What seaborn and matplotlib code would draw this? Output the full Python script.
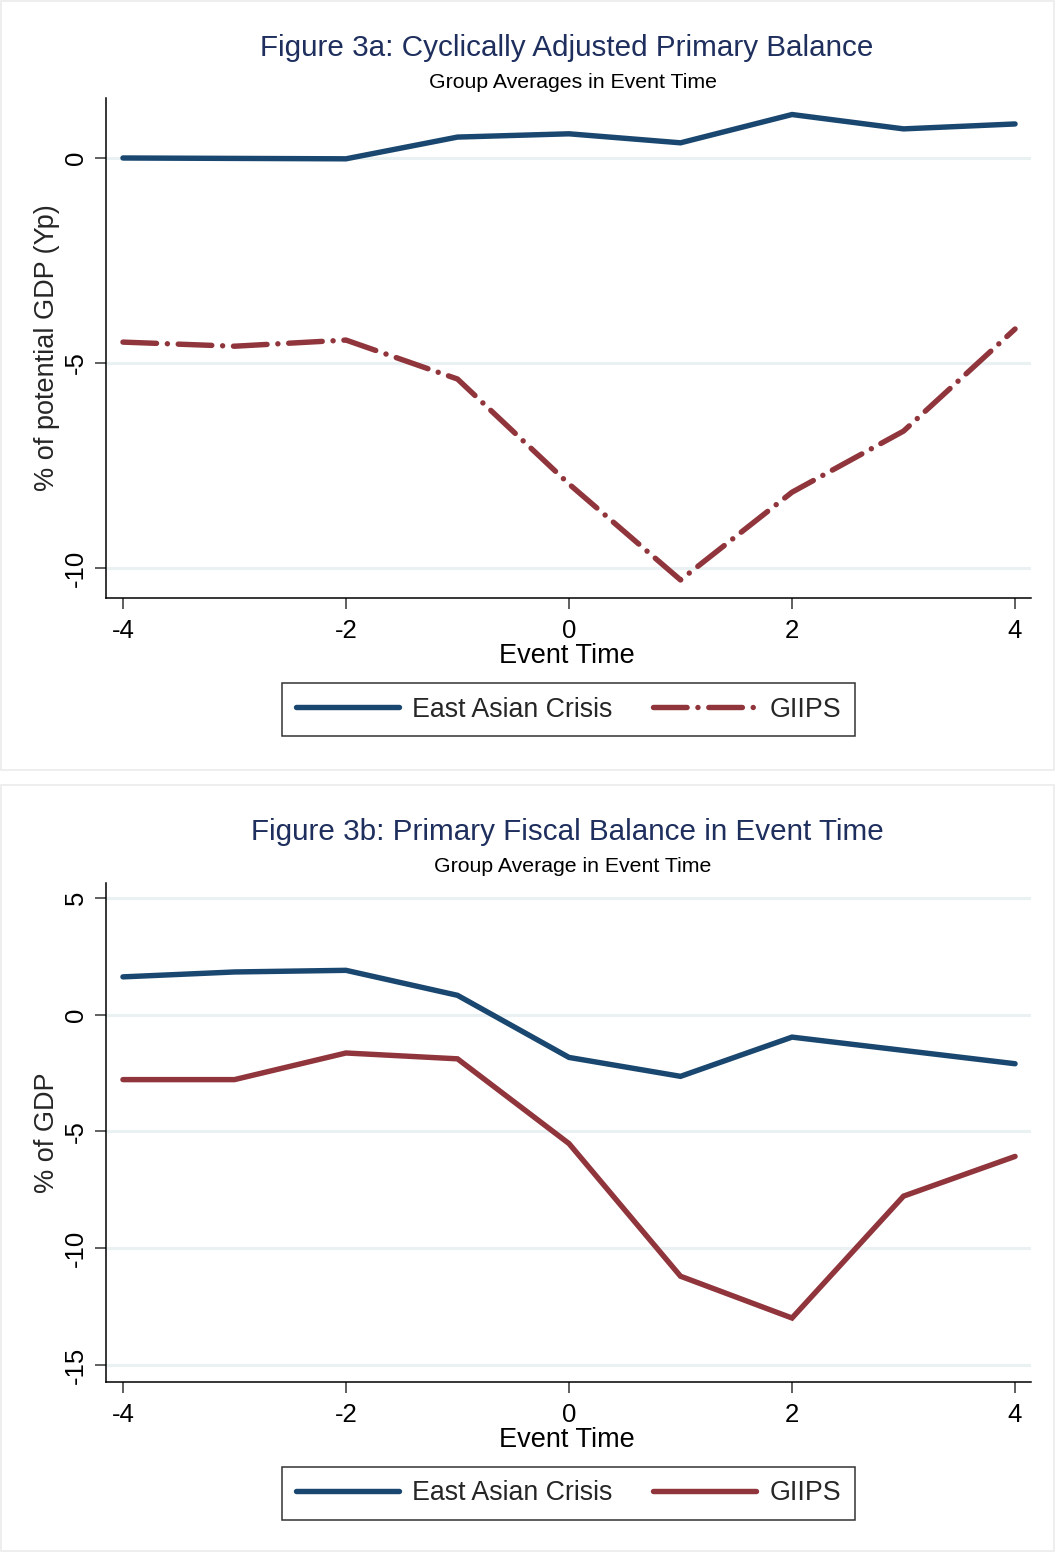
import numpy as np
import pandas as pd
import matplotlib
matplotlib.use("Agg")
import matplotlib.pyplot as plt
from matplotlib.patches import Rectangle
from matplotlib.lines import Line2D
import seaborn as sns

# ---- data ----
event_time = [-4, -3, -2, -1, 0, 1, 2, 3, 4]
capb_east_asia = [0.00, -0.01, -0.02, 0.51, 0.59, 0.37, 1.06, 0.71, 0.83]
capb_giips = [-4.49, -4.59, -4.44, -5.39, -7.95, -10.29, -8.15, -6.66, -4.17]
pfb_east_asia = [1.62, 1.83, 1.90, 0.83, -1.83, -2.64, -0.96, -1.53, -2.10]
pfb_giips = [-2.78, -2.78, -1.64, -1.89, -5.52, -11.20, -12.99, -7.77, -6.07]
series_names = ["East Asian Crisis", "GIIPS"]
x_ticks = [-4, -2, 0, 2, 4]
y_ticks_a = [0, -5, -10]
y_ticks_b = [5, 0, -5, -10, -15]

sns.set_theme(style="white")
plt.rcParams['font.family'] = ['Liberation Sans', 'DejaVu Sans']

BLUE = "#1a476f"
RED = "#90353b"
TITLE_C = "#1e2f5e"
GRID_C = "#eaf1f3"
LW = 3.9

W, H = 1057, 1552
fig = plt.figure(figsize=(W / 100, H / 100), dpi=100)
fig.patch.set_facecolor("white")

# panel frames
for (y0, y1) in [(1, 770), (785, 1551)]:
    fig.patches.append(Rectangle((1 / W, 1 - y1 / H), 1053 / W, (y1 - y0) / H,
                                 transform=fig.transFigure, fill=False,
                                 edgecolor="#ebebeb", linewidth=1.2, zorder=0))


def make_panel(top_px, bottom_px, ea, gi, yticks, ylim, ylabel, title, subtitle,
               title_y, sub_y, xlabel_y, legend_y, giips_dashed):
    ax = fig.add_axes([106 / W, 1 - bottom_px / H, 925 / W, (bottom_px - top_px) / H])
    df = pd.DataFrame({
        "t": event_time * 2,
        "v": list(ea) + list(gi),
        "s": [series_names[0]] * len(ea) + [series_names[1]] * len(gi),
    })
    sns.lineplot(data=df, x="t", y="v", hue="s", palette=[BLUE, RED], ax=ax,
                 linewidth=LW, legend=False, sort=False)
    lines = ax.get_lines()
    for ln in lines:
        ln.set_solid_capstyle("round")
        ln.set_dash_capstyle("round")
        ln.set_solid_joinstyle("miter")
    if giips_dashed:
        lines[1].set_dashes((6.2, 2, 0.01, 2))
    ax.set_xlim(-4.152, 4.143)
    ax.set_ylim(*ylim)
    ax.set_xticks(x_ticks)
    ax.set_xticklabels([str(v) for v in x_ticks])
    ax.set_yticks(yticks)
    ax.set_yticklabels([str(v) for v in yticks])
    for yv in yticks:
        ax.axhline(yv, color=GRID_C, linewidth=2.2, zorder=0)
    ax.tick_params(axis="both", which="major", direction="out", length=8, width=1.2,
                   color="#444444", labelsize=18.5, labelcolor="black",
                   left=True, bottom=True)
    ax.tick_params(axis="x", pad=7)
    ax.tick_params(axis="y", labelrotation=90, pad=5)
    for lab in ax.get_yticklabels():
        lab.set_va("center")
    for side in ["top", "right"]:
        ax.spines[side].set_visible(False)
    for side in ["left", "bottom"]:
        ax.spines[side].set_color("black")
        ax.spines[side].set_linewidth(1.1)
    ax.set_xlabel("")
    ax.set_ylabel(ylabel, fontsize=19.5)
    ax.yaxis.set_label_coords(-59 / 925, 0.5)
    ax.yaxis.label.set_va("center")
    fig.text(567 / W, 1 - title_y / H, title, ha="center", va="center",
             fontsize=21.3, color=TITLE_C)
    fig.text(573 / W, 1 - sub_y / H, subtitle, ha="center", va="center",
             fontsize=15.3, color="black")
    fig.text(567 / W, 1 - xlabel_y / H, "Event Time", ha="center", va="center",
             fontsize=19.5, color="black")
    handles = [Line2D([], [], color=BLUE, linewidth=LW, solid_capstyle="round"),
               Line2D([], [], color=RED, linewidth=LW, solid_capstyle="round",
                      dash_capstyle="round")]
    if giips_dashed:
        handles[1].set_dashes((6.2, 2, 0.01, 2))
    leg = fig.legend(handles, series_names, loc="center",
                     bbox_to_anchor=(568.5 / W, 1 - legend_y / H), ncol=2,
                     fontsize=19.3, frameon=True, fancybox=False, handlelength=3.85,
                     handletextpad=0.5, columnspacing=1.5, borderpad=0.5,
                     borderaxespad=0, handleheight=0.7)
    leg.get_frame().set_edgecolor("black")
    leg.get_frame().set_linewidth(1.1)
    return ax


make_panel(98, 598, capb_east_asia, capb_giips, y_ticks_a, (-10.73, 1.463),
           "% of potential GDP (Yp)",
           "Figure 3a: Cyclically Adjusted Primary Balance",
           "Group Averages in Event Time",
           48, 82, 656, 709.5, True)

make_panel(883, 1382, pfb_east_asia, pfb_giips, y_ticks_b, (-15.73, 5.64),
           "% of GDP",
           "Figure 3b: Primary Fiscal Balance in Event Time",
           "Group Average in Event Time",
           832, 866, 1440, 1493.5, False)

fig.savefig("out.png", dpi=100, facecolor="white")
